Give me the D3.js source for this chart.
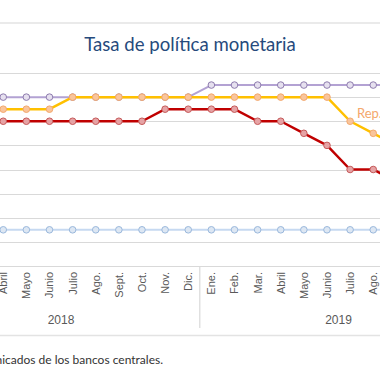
<!DOCTYPE html>
<html>
<head>
<meta charset="utf-8">
<script src="https://cdn.jsdelivr.net/npm/d3@7"></script>
<style>
  html, body { margin: 0; padding: 0; background: #fff; overflow: hidden; }
  svg { display: block; }
</style>
</head>
<body>
<svg id="chart" width="380" height="380"></svg>
<script>
// ---- Data ----
const monthLabels = ["Ene.","Feb.","Mar.","Abril","Mayo","Junio","Julio","Ago.","Sept.","Oct.","Nov.","Dic."];
const years = ["2018", "2019"];
const categories = years.flatMap(y => monthLabels.map(m => y + "-" + m));
// series start at index 2 (Mar. 2018) and run to index 20 (Sept. 2019)
const seriesStart = 2;
const honduras      = [5.5,5.5,5.5,5.5,5.5,5.5,5.5,5.5,5.5,5.5, 5.75,5.75,5.75,5.75,5.75,5.75,5.75,5.75,5.75];
const repDominicana = [5.25,5.25,5.25,5.25,5.5,5.5,5.5,5.5,5.5,5.5, 5.5,5.5,5.5,5.5,5.5,5.5,5.0,4.75,4.5];
const costaRica     = [5.0,5.0,5.0,5.0,5.0,5.0,5.0,5.0,5.25,5.25, 5.25,5.25,5.0,5.0,4.75,4.5,4.0,4.0,3.75];
const guatemala     = [2.75,2.75,2.75,2.75,2.75,2.75,2.75,2.75,2.75,2.75, 2.75,2.75,2.75,2.75,2.75,2.75,2.75,2.75,2.75];
const yTicks = [2.0,2.5,3.0,3.5,4.0,4.5,5.0,5.5,6.0];
const title = "Tasa de política monetaria";
const source = "Fuente: Comunicados de los bancos centrales.";
const seriesLabel = "Rep. Dominicana";

// ---- Layout ----
const W = 380;
const svg = d3.select("#chart");
const x = d3.scaleBand().domain(categories).range([-77.7, 477.3]).padding(0);
const xc = c => x(c) + x.bandwidth() / 2;
const y = d3.scaleLinear().domain([2, 6]).range([266, 73]);

const gridColor = "#d9d9d9";

// top separator
svg.append("line").attr("x1", 0).attr("x2", W).attr("y1", 23).attr("y2", 23)
  .attr("stroke", "#e3e3e3").attr("stroke-width", 1.5);

// title
svg.append("text").attr("x", 190).attr("y", 51).attr("text-anchor", "middle")
  .attr("font-family", "Lato, 'Open Sans', sans-serif").attr("font-size", 18.6)
  .attr("fill", "#264a7c").text(title);

// gridlines
svg.append("g").selectAll("line").data(yTicks).join("line")
  .attr("x1", 0).attr("x2", W)
  .attr("y1", d => Math.round(y(d)) + 0.5).attr("y2", d => Math.round(y(d)) + 0.5)
  .attr("stroke", gridColor).attr("stroke-width", 1.2);

// x axis month labels (only those inside the visible window)
const labG = svg.append("g");
categories.forEach((c, i) => {
  const cx = xc(c);
  if (cx < -6 || cx > W + 6) return;
  labG.append("text")
    .attr("transform", `translate(${cx + 4},272) rotate(-90)`)
    .attr("text-anchor", "end")
    .attr("font-family", "'Liberation Sans', Arial, sans-serif").attr("font-size", 11)
    .attr("fill", "#595959")
    .text(monthLabels[i % 12]);
});

// year group separators
const boundaries = [0, 12, 24].map(i => i < 24 ? x(categories[i]) : x(categories[23]) + x.bandwidth());
svg.append("g").selectAll("line").data(boundaries).join("line")
  .attr("x1", d => d).attr("x2", d => d).attr("y1", 266).attr("y2", 328)
  .attr("stroke", gridColor).attr("stroke-width", 1.2);

// year labels
years.forEach((yr, k) => {
  const a = x(categories[k * 12]), b = x(categories[k * 12 + 11]) + x.bandwidth();
  svg.append("text").attr("x", (a + b) / 2).attr("y", 324).attr("text-anchor", "middle")
    .attr("font-family", "'Liberation Sans', Arial, sans-serif").attr("font-size", 12)
    .attr("fill", "#595959").text(yr);
});

// bottom separator
svg.append("line").attr("x1", 0).attr("x2", W).attr("y1", 335.5).attr("y2", 335.5)
  .attr("stroke", "#e3e3e3").attr("stroke-width", 1.5);

// source
svg.append("text").attr("x", 163).attr("y", 364).attr("text-anchor", "end")
  .attr("font-family", "Lato, 'Open Sans', sans-serif").attr("font-size", 12)
  .attr("fill", "#333").text(source);

// series
const series = [
  { values: guatemala,     line: "#c6d9f1", fill: "#dde7f3", stroke: "#9ab8dc", w: 2 },
  { values: honduras,      line: "#b3a2d3", fill: "#e6e0ef", stroke: "#8e7cae", w: 2 },
  { values: costaRica,     line: "#c00000", fill: "#e6a3a5", stroke: "#c55a5a", w: 2.5 },
  { values: repDominicana, line: "#ffc000", fill: "#f9c59c", stroke: "#f3a86e", w: 2.5 },
];
const lineGen = d3.line().x(d => d.x).y(d => d.y);
series.forEach(s => {
  const pts = s.values.map((v, i) => ({ x: xc(categories[i + seriesStart]), y: y(v) }));
  svg.append("path").datum(pts).attr("d", lineGen)
    .attr("fill", "none").attr("stroke", s.line).attr("stroke-width", s.w)
    .attr("stroke-linejoin", "round");
  svg.append("g").selectAll("circle").data(pts).join("circle")
    .attr("cx", d => d.x).attr("cy", d => d.y).attr("r", 3.3)
    .attr("fill", s.fill).attr("stroke", s.stroke).attr("stroke-width", 1);
});

// series label
svg.append("text").attr("x", 357).attr("y", 118)
  .attr("font-family", "Lato, 'Open Sans', sans-serif").attr("font-size", 13)
  .attr("fill", "#f4a86c").text(seriesLabel);
</script>
</body>
</html>
